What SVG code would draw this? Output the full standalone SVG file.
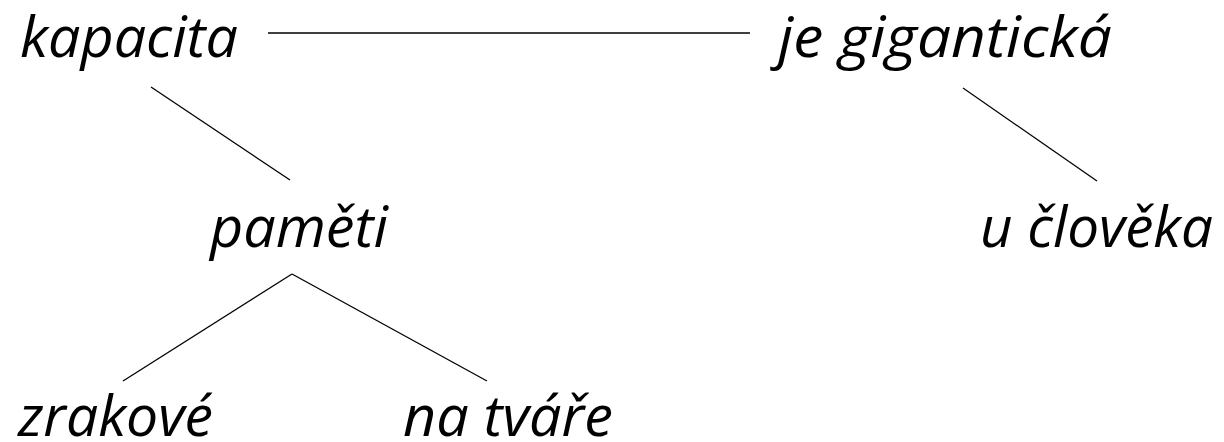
<svg xmlns="http://www.w3.org/2000/svg" width="1224" height="442" viewBox="0 0 1224 442">
<style>
.t{font-family:"Open Sans","Noto Sans","Liberation Sans",sans-serif;font-style:italic;font-size:56px;fill:#000}
.c line{stroke:#000;stroke-width:1.3}
</style>
<rect width="1224" height="442" fill="#fff"/>
<g class="c" id="connectors">
<line x1="268" y1="33" x2="750" y2="33"/>
<line x1="151" y1="87" x2="290" y2="180"/>
<line x1="963" y1="88" x2="1097" y2="181"/>
<line x1="292" y1="274" x2="123" y2="381"/>
<line x1="292" y1="274" x2="487" y2="381"/>
</g>
<g id="n-kapacita"><text class="t" x="20" y="57" textLength="218" lengthAdjust="spacingAndGlyphs">kapacita</text></g>
<g id="n-je-giganticka"><text class="t" x="778" y="57" textLength="334" lengthAdjust="spacingAndGlyphs">je gigantická</text></g>
<g id="n-pameti"><text class="t" x="210" y="247" textLength="178" lengthAdjust="spacingAndGlyphs">paměti</text></g>
<g id="n-u-cloveka"><text class="t" x="980" y="247" textLength="233" lengthAdjust="spacingAndGlyphs">u člověka</text></g>
<g id="n-zrakove"><text class="t" x="18" y="436" textLength="195" lengthAdjust="spacingAndGlyphs">zrakové</text></g>
<g id="n-na-tvare"><text class="t" x="403" y="436" textLength="210" lengthAdjust="spacingAndGlyphs">na tváře</text></g>
</svg>
